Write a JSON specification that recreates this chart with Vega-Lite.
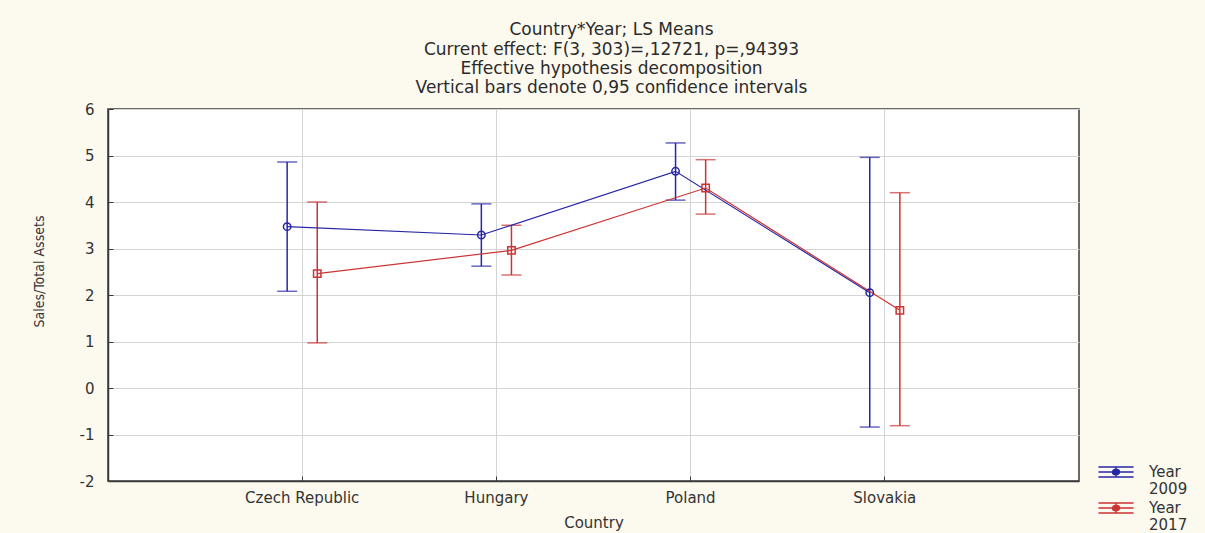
{
  "$schema": "https://vega.github.io/schema/vega-lite/v6.json",
  "autosize": {"type": "none"},
  "width": 971,
  "height": 372,
  "padding": {"left": 108, "top": 109, "right": 126, "bottom": 52},
  "background": "#fcf9ef",
  "title": {
    "text": ["Country*Year; LS Means", "Current effect: F(3, 303)=,12721, p=,94393", "Effective hypothesis decomposition", "Vertical bars denote 0,95 confidence intervals"],
    "anchor": "middle",
    "frame": "group",
    "dx": 18,
    "offset": 5,
    "font": "DejaVu Sans",
    "fontSize": 17,
    "fontWeight": "normal",
    "lineHeight": 19.2,
    "color": "#2b2b2b"
  },
  "config": {
    "view": {"fill": "white", "stroke": "#3a3a3a", "strokeWidth": 1.5},
    "axis": {
      "labelFont": "DejaVu Sans",
      "labelFontSize": 15,
      "labelColor": "#333333",
      "titleFont": "DejaVu Sans",
      "titleFontSize": 15,
      "titleFontWeight": "normal",
      "titleColor": "#333333",
      "gridColor": "#d4d4d4",
      "gridWidth": 1,
      "domainColor": "#3a3a3a",
      "domainWidth": 1.5,
      "tickColor": "#3a3a3a"
    },
    "legend": {
      "labelFont": "DejaVu Sans",
      "labelFontSize": 15,
      "labelColor": "#333333"
    }
  },
  "data": {
    "values": [
      {"Country": "Czech Republic", "Year": "2009", "mean": 3.47, "lo": 2.08, "hi": 4.86},
      {"Country": "Czech Republic", "Year": "2017", "mean": 2.46, "lo": 0.97, "hi": 4.0},
      {"Country": "Hungary", "Year": "2009", "mean": 3.29, "lo": 2.62, "hi": 3.96},
      {"Country": "Hungary", "Year": "2017", "mean": 2.96, "lo": 2.43, "hi": 3.5},
      {"Country": "Poland", "Year": "2009", "mean": 4.66, "lo": 4.04, "hi": 5.27},
      {"Country": "Poland", "Year": "2017", "mean": 4.3, "lo": 3.74, "hi": 4.91},
      {"Country": "Slovakia", "Year": "2009", "mean": 2.05, "lo": -0.84, "hi": 4.96},
      {"Country": "Slovakia", "Year": "2017", "mean": 1.67, "lo": -0.81, "hi": 4.2}
    ]
  },
  "encoding": {
    "x": {
      "field": "Country",
      "type": "nominal",
      "sort": ["Czech Republic", "Hungary", "Poland", "Slovakia"],
      "scale": {"type": "band", "paddingInner": 0.69, "paddingOuter": 0.845},
      "axis": {
        "title": "Country",
        "labelAngle": 0,
        "bandPosition": 0.5,
        "grid": true,
        "tickSize": -5,
        "labelPadding": 14,
        "titlePadding": 10,
        "domain": true
      }
    },
    "xOffset": {
      "field": "Year",
      "type": "nominal",
      "sort": ["2009", "2017"],
      "scale": {"domain": ["2009", "2017"], "paddingInner": 0, "paddingOuter": 0}
    },
    "color": {
      "field": "Year",
      "type": "nominal",
      "sort": ["2009", "2017"],
      "scale": {"domain": ["2009", "2017"], "range": ["#2626a6", "#cc3333"]},
      "legend": {
        "title": null,
        "orient": "none",
        "legendX": 997,
        "legendY": 352,
        "symbolType": "M-1.75,0H1.75M-1.75,-0.5H1.75M-1.75,0.5H1.75M0,-0.5V0.5M0.35,0A0.35,0.28 0 1 1 -0.35,0A0.35,0.28 0 1 1 0.35,0",
        "symbolSize": 400,
        "symbolStrokeWidth": 1.4,
        "symbolOpacity": 1,
        "symbolFillColor": "transparent",
        "labelExpr": "['Year', datum.label]",
        "labelOffset": 22,
        "rowPadding": 0,
        "labelBaseline": "middle"
      }
    }
  },
  "layer": [
    {
      "mark": {"type": "rule", "strokeWidth": 1.5},
      "encoding": {
        "y": {
          "field": "lo",
          "type": "quantitative",
          "scale": {"domain": [-2, 6], "nice": false},
          "axis": {
            "title": "Sales/Total Assets",
            "titleFont": "Liberation Sans Narrow, DejaVu Sans Condensed, Roboto, sans-serif",
            "titleFontSize": 14,
            "titleX": -62,
            "titleY": 162,
            "values": [-2, -1, 0, 1, 2, 3, 4, 5, 6],
            "labelExpr": "'' + datum.value",
            "grid": true,
            "tickSize": -5,
            "labelPadding": 19
          }
        },
        "y2": {"field": "hi"}
      }
    },
    {
      "mark": {"type": "tick", "thickness": 1.5, "size": 20},
      "encoding": {"y": {"field": "hi", "type": "quantitative"}}
    },
    {
      "mark": {"type": "tick", "thickness": 1.5, "size": 20},
      "encoding": {"y": {"field": "lo", "type": "quantitative"}}
    },
    {
      "mark": {"type": "line", "strokeWidth": 1.2},
      "encoding": {"y": {"field": "mean", "type": "quantitative"}}
    },
    {
      "transform": [{"filter": "datum.Year == '2009'"}],
      "mark": {"type": "point", "shape": "circle", "filled": false, "strokeWidth": 1.5, "size": 55, "opacity": 1},
      "encoding": {"y": {"field": "mean", "type": "quantitative"}}
    },
    {
      "transform": [{"filter": "datum.Year == '2017'"}],
      "mark": {"type": "point", "shape": "square", "filled": false, "strokeWidth": 1.5, "size": 55, "opacity": 1},
      "encoding": {"y": {"field": "mean", "type": "quantitative"}}
    }
  ]
}
